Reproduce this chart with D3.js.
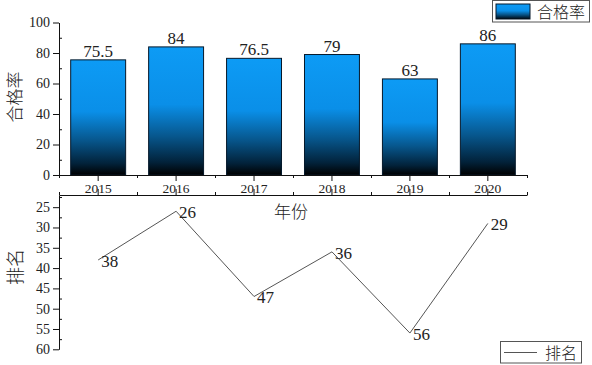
<!DOCTYPE html>
<html>
<head>
<meta charset="utf-8">
<script src="https://cdn.jsdelivr.net/npm/d3@7"></script>
<style>
  body { margin: 0; background: #fff; }
  svg text { font-family: "Liberation Serif", serif; fill: #222; }
  svg text.cjk { font-family: "Noto Sans CJK SC", sans-serif; font-weight: 300; }
  .axis path, .axis line { stroke: #111; }
</style>
</head>
<body>
<script>
(function(d3) {
  var years = ["2015", "2016", "2017", "2018", "2019", "2020"];
  var passRate = [75.5, 84, 76.5, 79, 63, 86];
  var rank = [38, 26, 47, 36, 56, 29];
  var rateTicks = [0, 20, 40, 60, 80, 100];
  var rankTicks = [25, 30, 35, 40, 45, 50, 55, 60];

  var width = 592, height = 365;
  var left = 59, right = 527;
  var svg = d3.select("body").append("svg").attr("width", width).attr("height", height);

  var defs = svg.append("defs");
  var grad = defs.append("linearGradient").attr("id", "barGrad")
    .attr("x1", 0).attr("y1", 0).attr("x2", 0).attr("y2", 1);
  grad.append("stop").attr("offset", "0%").attr("stop-color", "#0d9bf5");
  grad.append("stop").attr("offset", "45%").attr("stop-color", "#0a8fe8");
  grad.append("stop").attr("offset", "70%").attr("stop-color", "#07568c");
  grad.append("stop").attr("offset", "90%").attr("stop-color", "#02223a");
  grad.append("stop").attr("offset", "100%").attr("stop-color", "#000000");

  var x = d3.scaleBand().domain(years).range([left, right]).paddingInner(0.295).paddingOuter(0.15);
  var xc = function(d) { return x(d) + x.bandwidth() / 2; };
  var xi = d3.scaleLinear().domain([0, years.length]).range([left, right]);

  // top chart
  var y1 = d3.scaleLinear().domain([0, 100]).range([175, 22.5]);

  svg.selectAll("rect.bar").data(years).enter().append("rect")
    .attr("class", "bar")
    .attr("x", function(d) { return x(d); })
    .attr("y", function(d, i) { return y1(passRate[i]); })
    .attr("width", x.bandwidth())
    .attr("height", function(d, i) { return y1(0) - y1(passRate[i]); })
    .attr("fill", "url(#barGrad)")
    .attr("stroke", "#06192b").attr("stroke-width", 1);

  svg.selectAll("text.val").data(years).enter().append("text")
    .attr("class", "val")
    .attr("x", xc)
    .attr("y", function(d, i) { return y1(passRate[i]) - 3; })
    .attr("text-anchor", "middle").style("font-size", "17px")
    .text(function(d, i) { return passRate[i]; });

  svg.append("g").attr("class", "axis").attr("transform", "translate(" + left + ",0)")
    .call(d3.axisLeft(y1).tickValues(rateTicks).tickSize(6).tickSizeOuter(0).tickPadding(3))
    .selectAll("text").style("font-size", "14px");
  svg.append("g").attr("class", "axis").attr("transform", "translate(" + left + ",0)")
    .call(d3.axisRight(y1).tickValues([10, 30, 50, 70, 90]).tickSize(3).tickFormat(""))
    .select(".domain").remove();

  svg.append("g").attr("class", "axis").attr("transform", "translate(0,175)")
    .call(d3.axisBottom(x).tickSize(6).tickSizeOuter(0).tickFormat(""));
  svg.append("g").attr("class", "axis").attr("transform", "translate(0,175)")
    .call(d3.axisBottom(xi).ticks(years.length).tickSize(3).tickFormat(""))
    .select(".domain").remove();

  // bottom chart
  var y2 = d3.scaleLinear().domain([22, 60]).range([195, 349.3]);

  svg.append("g").attr("class", "axis").attr("transform", "translate(0,195)")
    .call(d3.axisTop(x).tickSize(6).tickSizeOuter(0).tickPadding(-4))
    .selectAll("text").style("font-size", "13.5px");
  svg.append("g").attr("class", "axis").attr("transform", "translate(0,195)")
    .call(d3.axisTop(xi).ticks(years.length).tickSize(3).tickFormat(""))
    .select(".domain").remove();

  svg.append("g").attr("class", "axis").attr("transform", "translate(" + left + ",0)")
    .call(d3.axisLeft(y2).tickValues(rankTicks).tickSize(6).tickSizeOuter(0).tickPadding(3))
    .selectAll("text").style("font-size", "14px");
  svg.append("g").attr("class", "axis").attr("transform", "translate(" + left + ",0)")
    .call(d3.axisRight(y2).tickValues([22.5, 27.5, 32.5, 37.5, 42.5, 47.5, 52.5, 57.5]).tickSize(3).tickFormat(""))
    .select(".domain").remove();

  var line = d3.line()
    .x(function(d, i) { return xc(years[i]); })
    .y(function(d) { return y2(d); });
  svg.append("path").datum(rank).attr("d", line)
    .attr("fill", "none").attr("stroke", "#555").attr("stroke-width", 1);

  svg.selectAll("text.rk").data(rank).enter().append("text")
    .attr("class", "rk")
    .attr("x", function(d, i) { return xc(years[i]) + 3; })
    .attr("y", function(d) { return y2(d); })
    .attr("dy", "0.4em").style("font-size", "17px")
    .text(function(d) { return d; });

  // titles
  svg.append("text").attr("class", "cjk").style("font-size", "17px").attr("text-anchor", "middle")
    .attr("transform", "translate(21,97) rotate(-90)").text("合格率");
  svg.append("text").attr("class", "cjk").style("font-size", "18px").attr("text-anchor", "middle")
    .attr("transform", "translate(22,267) rotate(-90)").text("排名");
  svg.append("text").attr("class", "cjk").style("font-size", "17px").attr("text-anchor", "middle")
    .attr("x", 291).attr("y", 218).text("年份");

  // legends
  var lg1 = svg.append("g");
  lg1.append("rect").attr("x", 492.5).attr("y", 0.5).attr("width", 97).attr("height", 21.5)
    .attr("fill", "#fff").attr("stroke", "#555");
  lg1.append("rect").attr("x", 496).attr("y", 4).attr("width", 34).attr("height", 15)
    .attr("fill", "url(#barGrad)").attr("stroke", "#06192b");
  lg1.append("text").attr("class", "cjk").attr("x", 537).attr("y", 17.5).style("font-size", "16px").text("合格率");

  var lg2 = svg.append("g");
  lg2.append("rect").attr("x", 500.5).attr("y", 341.5).attr("width", 81).attr("height", 21.5)
    .attr("fill", "#fff").attr("stroke", "#555");
  lg2.append("line").attr("x1", 504).attr("x2", 537).attr("y1", 352.5).attr("y2", 352.5)
    .attr("stroke", "#555");
  lg2.append("text").attr("class", "cjk").attr("x", 545).attr("y", 358.5).style("font-size", "16px").text("排名");
})(d3);
</script>
</body>
</html>
